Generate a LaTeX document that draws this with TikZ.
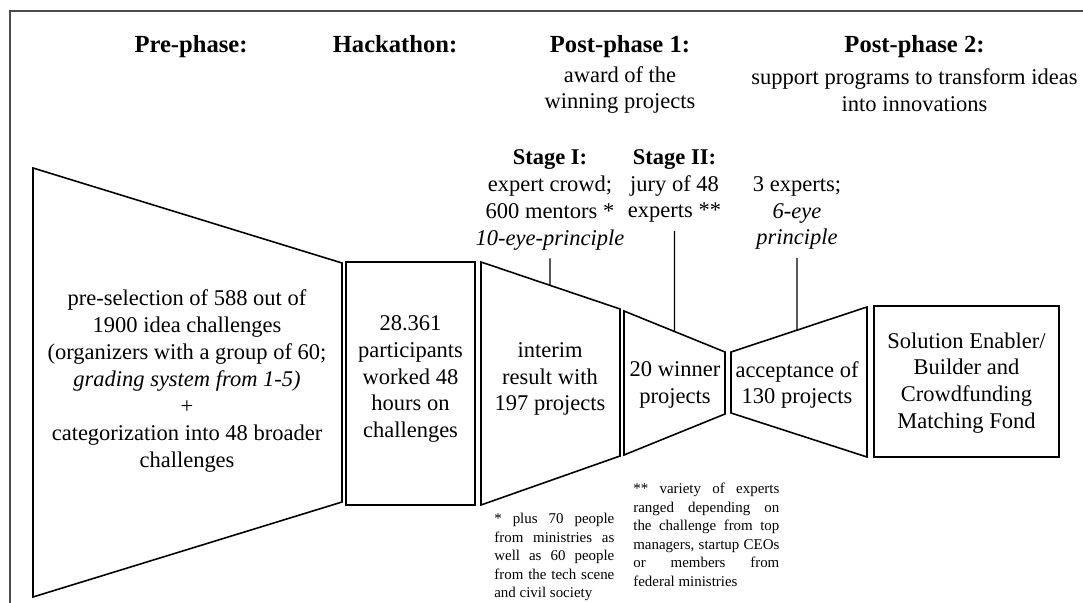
\documentclass[tikz,border=0pt]{standalone}
\usepackage{fontspec}
\setmainfont{Liberation Serif}
\usetikzlibrary{calc}
\newcommand\spreadline[2]{\makebox[#1][s]{#2}}

\begin{document}
\begin{tikzpicture}[x=0.2mm,y=-0.2mm,
	funnel/.style={draw=black,line width=0.9pt},
	headline/.style={font=\fontsize{14}{17}\selectfont\bfseries,inner sep=0,anchor=base},
	bodytext/.style={font=\fontsize{12.8}{15.3}\selectfont,align=center,inner sep=0},
	stagetext/.style={bodytext,inner sep=4.5pt},
	notetext/.style={font=\fontsize{8.5}{10.5}\selectfont,align=left,inner sep=0,anchor=north west}]
		
		\useasboundingbox (0,0) rectangle (1083,603);
		
		\def\NoteOneW{24mm}
		\def\NoteTwoW{29.2mm}
		\def\HeadBase{52.5}
		
		%% FRAME
		\draw[black!70,line width=1.1pt] (1083,11) -- (9.6,11) -- (9.6,603);
		
		
		%% CORNERS OF THE FUNNEL
		\coordinate (PreTL) at (33,168);
		\coordinate (PreTR) at (342,263);
		\coordinate (PreBR) at (342,502);
		\coordinate (PreBL) at (33,597);
		
		\coordinate (HackTL) at (346,262);
		\coordinate (HackBR) at (475,505);
		
		\coordinate (IntTL) at (481,262);
		\coordinate (IntTR) at (620,309);
		\coordinate (IntBR) at (620,456);
		\coordinate (IntBL) at (481,505);
		
		\coordinate (WinTL) at (624,311);
		\coordinate (WinTR) at (725,352);
		\coordinate (WinBR) at (725,414);
		\coordinate (WinBL) at (624,455);
		
		\coordinate (AccTL) at (731,352);
		\coordinate (AccTR) at (867,307);
		\coordinate (AccBR) at (867,457);
		\coordinate (AccBL) at (731,413);
		
		\coordinate (SolTL) at (874,306);
		\coordinate (SolBR) at (1059,457);
		
		\draw[funnel] (PreTL) -- (PreTR) -- (PreBR) -- (PreBL) -- cycle;
		\draw[funnel] (HackTL) rectangle (HackBR);
		\draw[funnel] (IntTL) -- (IntTR) -- (IntBR) -- (IntBL) -- cycle;
		\draw[funnel] (WinTL) -- (WinTR) -- (WinBR) -- (WinBL) -- cycle;
		\draw[funnel] (AccTL) -- (AccTR) -- (AccBR) -- (AccBL) -- cycle;
		\draw[funnel] (SolTL) rectangle (SolBR);
		
		
		%% PHASE HEADINGS
		\node[headline] (PrePhase) at (191,\HeadBase) {Pre-phase:};
		\node[headline] (Hackathon) at (395,\HeadBase) {Hackathon:};
		\node[headline] (PostOne) at (620,\HeadBase) {Post-phase 1:};
		\node[bodytext] (PostOneSub) at (620,90) {award of the\\winning projects};
		\node[headline] (PostTwo) at (914.5,\HeadBase) {Post-phase 2:};
		\node[bodytext] (PostTwoSub) at (914.5,90) {support programs to transform ideas\\into innovations};
		
		
		%% STAGES
		\node[stagetext] (StageOne) at (550,200) {\textbf{Stage I:}\\expert crowd;\\600 mentors *\\\textit{10-eye-principle}};
		\node[stagetext] (StageTwo) at (674.5,186) {\textbf{Stage II:}\\jury of 48\\experts **};
		\node[stagetext] (ExpThree) at (797,213) {3 experts;\\\textit{6-eye}\\\textit{principle}};
		
		\foreach \lbl/\a/\b in {StageOne/IntTL/IntTR,StageTwo/WinTL/WinTR,ExpThree/AccTL/AccTR}{
			\draw[line width=0.8pt] (\lbl.south) -- (intersection of \lbl.south--\lbl.north and \a--\b);
		}
		
		
		%% TEXT IN THE FUNNEL
		\node[bodytext] (PreText) at (187,381) {pre-selection of 588 out of\\1900 idea challenges\\(organizers with a group of 60;\\\textit{grading system from 1-5)}\\+\\categorization into 48 broader\\challenges};
		\node[bodytext] (HackText) at (410.5,379) {28.361\\participants\\worked 48\\hours on\\challenges};
		\node[bodytext] (IntText) at (550,379) {interim\\result with\\197 projects};
		\node[bodytext] (WinText) at (675,385) {20 winner\\projects};
		\node[bodytext] (AccText) at (797,385) {acceptance of\\130 projects};
		\node[bodytext] (SolText) at (966.5,383) {Solution Enabler/\\Builder and\\Crowdfunding\\Matching Fond};
		
		
		%% FOOTNOTES
		\node[notetext] (NoteOne) at (494,513) {\spreadline{\NoteOneW}{* plus 70 people}\\
			\spreadline{\NoteOneW}{from ministries as}\\
			\spreadline{\NoteOneW}{well as 60 people}\\
			\spreadline{\NoteOneW}{from the tech scene}\\
			and civil society};
		\node[notetext] (NoteTwo) at (633,483) {\spreadline{\NoteTwoW}{** variety of experts}\\
			\spreadline{\NoteTwoW}{ranged depending on}\\
			\spreadline{\NoteTwoW}{the challenge from top}\\
			\spreadline{\NoteTwoW}{managers, startup CEOs}\\
			\spreadline{\NoteTwoW}{or members from}\\
			federal ministries};
		
	\end{tikzpicture}
\end{document}
